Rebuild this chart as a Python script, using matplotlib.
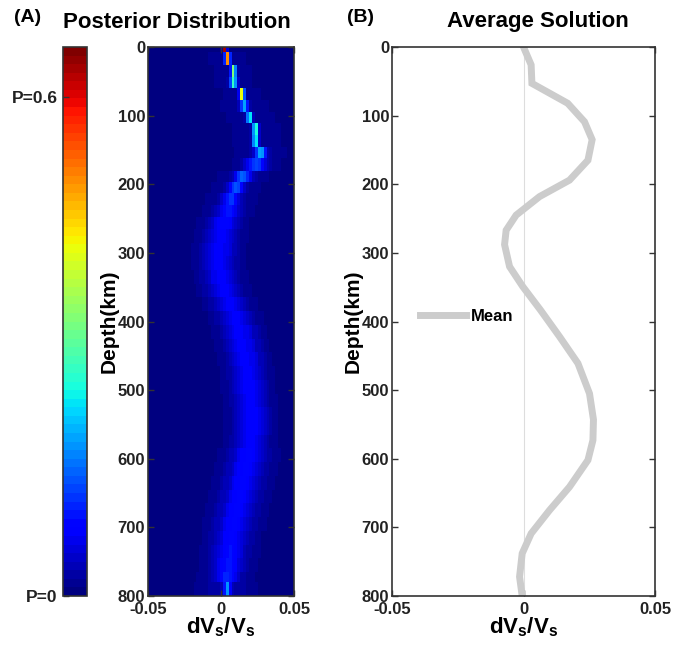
import matplotlib
matplotlib.use("Agg")
import matplotlib.pyplot as plt
import numpy as np

plt.rcParams['font.family'] = ['Liberation Sans', 'DejaVu Sans']
plt.rcParams['font.weight'] = 'bold'
plt.rcParams['mathtext.fontset'] = 'custom'
plt.rcParams['mathtext.bf'] = 'Liberation Sans:bold'
plt.rcParams['mathtext.rm'] = 'Liberation Sans:bold'

# posterior rows (depth bins, km)
depth_edges = [0, 8, 26, 43, 60, 77, 94, 111, 128, 145, 162, 180, 196, 213, 230,
               247, 265, 285, 305, 325, 345, 365, 385, 405, 425, 445, 465, 485,
               505, 525, 545, 565, 585, 605, 625, 645, 665, 685, 705, 725, 745,
               765, 780, 800]
row_center = [0.0024, 0.0042, 0.0085, 0.0085, 0.0145, 0.016, 0.0195, 0.0235, 0.0235, 0.027,
              0.024, 0.015, 0.0105, 0.007, 0.005, 0.002, 0.0, -0.001, -0.0015, -0.0005,
              0.002, 0.006, 0.010, 0.013, 0.015, 0.017, 0.018, 0.019, 0.020, 0.021,
              0.021, 0.020, 0.019, 0.017, 0.015, 0.013, 0.011, 0.009, 0.007, 0.006,
              0.005, 0.004, 0.004]
row_peak = [0.64, 0.48, 0.33, 0.26, 0.42, 0.17, 0.25, 0.28, 0.24, 0.18,
            0.11, 0.13, 0.12, 0.10, 0.08, 0.07, 0.062, 0.058, 0.058, 0.058,
            0.058, 0.058, 0.058, 0.058, 0.058, 0.058, 0.06, 0.06, 0.06, 0.06,
            0.06, 0.06, 0.06, 0.06, 0.06, 0.06, 0.06, 0.06, 0.062, 0.068,
            0.075, 0.085, 0.15]
row_width = [0.0008, 0.0011, 0.0014, 0.0018, 0.0011, 0.0018, 0.0012, 0.0012, 0.0013, 0.0025,
             0.0045, 0.0035, 0.0035, 0.004, 0.005, 0.006, 0.0065, 0.007, 0.007, 0.007,
             0.007, 0.007, 0.007, 0.007, 0.007, 0.007, 0.007, 0.007, 0.007, 0.007,
             0.007, 0.007, 0.0075, 0.0075, 0.0075, 0.0075, 0.0075, 0.0075, 0.007, 0.0065,
             0.006, 0.005, 0.0015]
row_halo = [0.01, 0.015, 0.015, 0.015, 0.015, 0.02, 0.02, 0.02, 0.02, 0.02,
            0.02, 0.02, 0.02, 0.02, 0.02, 0.02, 0.02, 0.02, 0.02, 0.02,
            0.02, 0.02, 0.02, 0.02, 0.02, 0.02, 0.02, 0.02, 0.02, 0.02,
            0.02, 0.02, 0.025, 0.025, 0.025, 0.025, 0.025, 0.025, 0.025, 0.025,
            0.025, 0.025, 0.03]

# average solution
mean_depth = [0, 26, 53, 82, 109, 135, 165, 194, 218, 245, 267, 288, 320, 349, 383,
              422, 461, 505, 543, 573, 602, 641, 675, 709, 738, 772, 800]
mean_dvs = [0.0, 0.0029, 0.0032, 0.0168, 0.0232, 0.0261, 0.0245, 0.0175, 0.0061, -0.0028,
            -0.0066, -0.0072, -0.0053, -0.0003, 0.0064, 0.0137, 0.0207, 0.0251, 0.0266, 0.0264,
            0.0245, 0.0175, 0.0099, 0.0029, -0.0005, -0.0015, -0.0005]

x_edges = np.arange(-0.0508, 0.0513, 0.002)
x_mid = 0.5 * (x_edges[:-1] + x_edges[1:])
Z = np.array([p * np.exp(-0.5 * ((x_mid - c) / w) ** 2) + h * np.exp(-0.5 * ((x_mid - c) / 0.015) ** 2)
              for c, p, w, h in zip(row_center, row_peak, row_width, row_halo)])

jet = matplotlib.colormaps['jet'].resampled(64)
spine_col = '#333333'
tick_col = '#333333'

fig = plt.figure(figsize=(6.77, 6.5), dpi=100)
W, H = 677.0, 650.0
def box(x0, x1, y0, y1):
    return [x0 / W, 1 - y1 / H, (x1 - x0) / W, (y1 - y0) / H]

cax = fig.add_axes(box(63, 87, 47, 596))
ax1 = fig.add_axes(box(148, 294, 47, 596))
ax2 = fig.add_axes(box(392, 655, 47, 596))

mesh = ax1.pcolormesh(x_edges, depth_edges, Z, cmap=jet, vmin=0, vmax=0.66, shading='flat')
ax1.set_xlim(-0.05, 0.05)
ax1.set_ylim(800, 0)

ax2.plot(mean_dvs, mean_depth, color='#cccccc', lw=5, label='Mean', solid_joinstyle='miter')
ax2.axvline(0, color='#dddddd', lw=0.8, zorder=0)
ax2.set_xlim(-0.05, 0.05)
ax2.set_ylim(800, 0)
leg = ax2.legend(loc='center left', bbox_to_anchor=(0.08, 0.51), frameon=False,
                 fontsize=12, handlelength=2.8, handletextpad=0.3, borderaxespad=0)

for ax in (ax1, ax2):
    ax.set_xticks([-0.05, 0, 0.05])
    ax.set_xticklabels(['-0.05', '0', '0.05'])
    ax.set_yticks(range(0, 801, 100))
    ax.tick_params(direction='in', length=4, width=1, color=tick_col, labelcolor='#222222',
                   labelsize=12, top=True, right=True, pad=2)
    ax.tick_params(axis='x', pad=4)
    for s in ax.spines.values():
        s.set_color(spine_col)
        s.set_linewidth(1.2)
    ax.set_ylabel('Depth(km)', fontsize=15, fontweight='bold', labelpad=-1)
    ax.set_xlabel(r'$\mathbf{dV_s/V_s}$', fontsize=16, labelpad=-1)

cb = fig.colorbar(mesh, cax=cax, ticks=[0, 0.6])
cb.ax.yaxis.set_ticks_position('left')
cb.ax.set_yticklabels(['P=0', 'P=0.6'])
cb.ax.tick_params(direction='in', length=4, width=1, color=tick_col, labelcolor='#222222',
                  labelsize=12.5, pad=4)
cb.outline.set_edgecolor(spine_col)
cb.outline.set_linewidth(1.2)

fig.text(28 / W, 1 - 18 / H, '(A)', fontsize=14, fontweight='bold', ha='center', va='center')
fig.text(361 / W, 1 - 18 / H, '(B)', fontsize=14, fontweight='bold', ha='center', va='center')
fig.text(177 / W, 1 - 22 / H, 'Posterior Distribution', fontsize=16, fontweight='bold', ha='center', va='center')
fig.text(538 / W, 1 - 22 / H, 'Average Solution', fontsize=16, fontweight='bold', ha='center', va='center')

fig.savefig('out.png', dpi=100)
